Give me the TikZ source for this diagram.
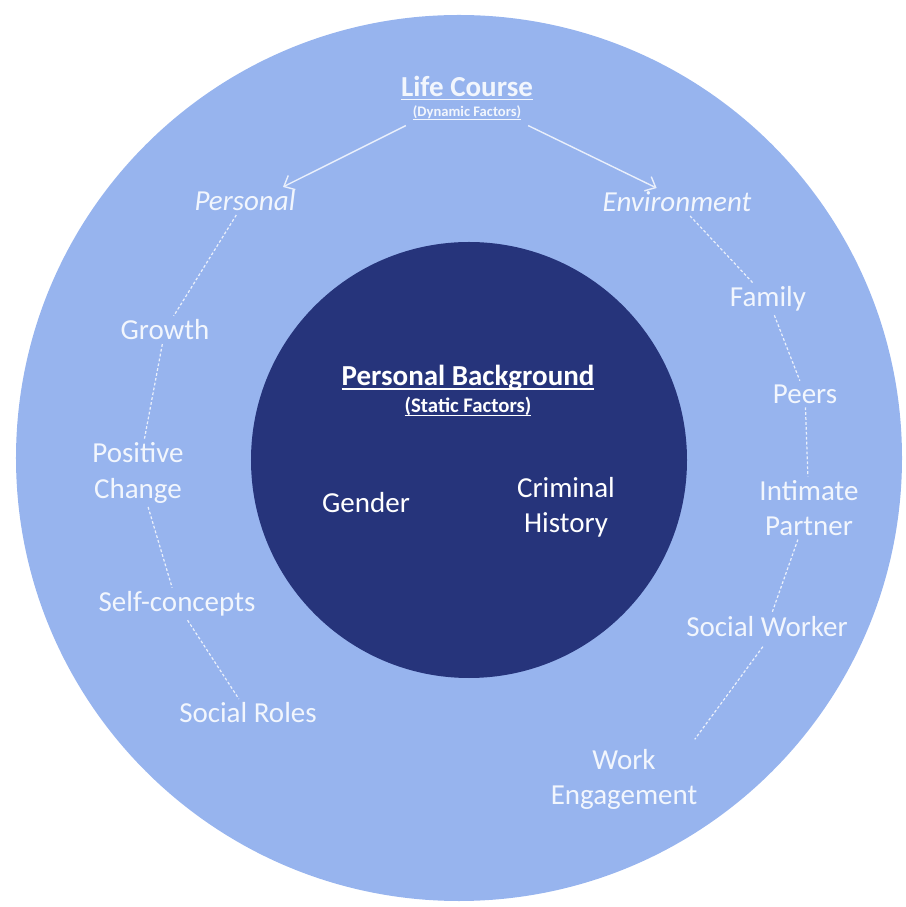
\documentclass[tikz,border=0pt]{standalone}
\usepackage{fontspec}
\setmainfont{Carlito}
\usetikzlibrary{arrows.meta,calc}
\pgfdeclarelayer{bg}
\pgfsetlayers{bg,main}
\definecolor{ringblue}{RGB}{151,180,238}
\definecolor{coreblue}{RGB}{38,52,123}
\definecolor{paleink}{RGB}{242,246,253}
% underline with a rule under the box
\newcommand{\ulbar}[2][2.4pt]{\setbox0\hbox{#2}\leavevmode\rlap{\rule[-#1]{\wd0}{0.9pt}}\box0}

\begin{document}
\begin{tikzpicture}[
        lbl/.style={text=paleink, font=\fontsize{16.5}{20}\selectfont, align=center, inner sep=2pt},
        sublbl/.style={text=paleink, font=\fontsize{8.3}{10}\selectfont\bfseries, inner sep=2pt},
        trail/.style={draw=paleink!90!ringblue, line width=0.7pt, dash pattern=on 1.6pt off 1.2pt},
        branch/.style={draw=paleink!90!ringblue, line width=0.8pt, -{Straight Barb[length=5pt,width=9pt]}}
    ]
        \useasboundingbox (-9.180000cm, -8.980000cm) rectangle (8.920000cm, 9.160000cm);

        % the two rings
        \begin{pgfonlayer}{bg}
                \fill [ringblue] (0cm, 0cm) circle (8.860000cm);
                \fill [coreblue] (0.200000cm, -0.040000cm) circle (4.360000cm);
        \end{pgfonlayer}

        \node (life) [lbl, font=\fontsize{16.5}{20}\selectfont\bfseries] at (0.160000cm, 7.400000cm) {\ulbar{Life Course}};
        \node (lifesub) [sublbl] at (0.160000cm, 6.900000cm) {\ulbar[2pt]{(Dynamic Factors)}};
        \node (personal) [lbl, font=\fontsize{16.5}{20}\selectfont\itshape] at (-4.280000cm, 5.140000cm) {Personal};
        \node (environment) [lbl, font=\fontsize{16.5}{20}\selectfont\itshape] at (4.360000cm, 5.120000cm) {Environment};
        \node (growth) [lbl] at (-5.880000cm, 2.560000cm) {Growth};
        \node (poschange) [lbl] at (-6.420000cm, -0.300000cm) {Positive\\Change};
        \node (selfcon) [lbl] at (-5.640000cm, -2.920000cm) {Self-concepts};
        \node (socroles) [lbl] at (-4.220000cm, -5.100000cm) {Social Roles};
        \node (family) [lbl] at (6.180000cm, 3.180000cm) {Family};
        \node (peers) [lbl] at (6.920000cm, 1.280000cm) {Peers};
        \node (intimate) [lbl] at (7.000000cm, -1.000000cm) {Intimate\\Partner};
        \node (socworker) [lbl] at (6.160000cm, -3.380000cm) {Social Worker};
        \node (workeng) [lbl] at (3.300000cm, -6.420000cm) {Work\\Engagement};

        \node (background) [lbl, text=white, font=\fontsize{16.5}{20}\selectfont\bfseries] at (0.180000cm, 1.600000cm) {\ulbar{Personal Background}};
        \node (static) [sublbl, text=white, font=\fontsize{11.8}{14}\selectfont\bfseries] at (0.180000cm, 1.020000cm) {\ulbar[2pt]{(Static Factors)}};
        \node (gender) [lbl, text=white] at (-1.860000cm, -0.900000cm) {Gender};
        \node (criminal) [lbl, text=white] at (2.140000cm, -0.980000cm) {Criminal\\History};

        \coordinate (ptip) at ($(personal.north west)!0.85!(personal.north east)$);
        \coordinate (etip) at ($(environment.north west)!0.37!(environment.north east)$);

        \begin{pgfonlayer}{bg}
                \draw (lifesub.south west) edge [branch, shorten <=2pt] (ptip);
                \draw (lifesub.south east) edge [branch, shorten <=2pt] (etip);
                \draw (personal) edge [trail] (growth);
                \draw (growth) edge [trail] (poschange);
                \draw (poschange) edge [trail] (selfcon);
                \draw (selfcon) edge [trail] (socroles);
                \draw (environment) edge [trail] (family);
                \draw (family) edge [trail] (peers);
                \draw (peers) edge [trail] (intimate);
                \draw (intimate) edge [trail] (socworker);
                \draw (socworker.south) edge [trail, shorten <=4pt, shorten >=4pt] ([xshift=-6pt]workeng.north east);
        \end{pgfonlayer}
\end{tikzpicture}
\end{document}
